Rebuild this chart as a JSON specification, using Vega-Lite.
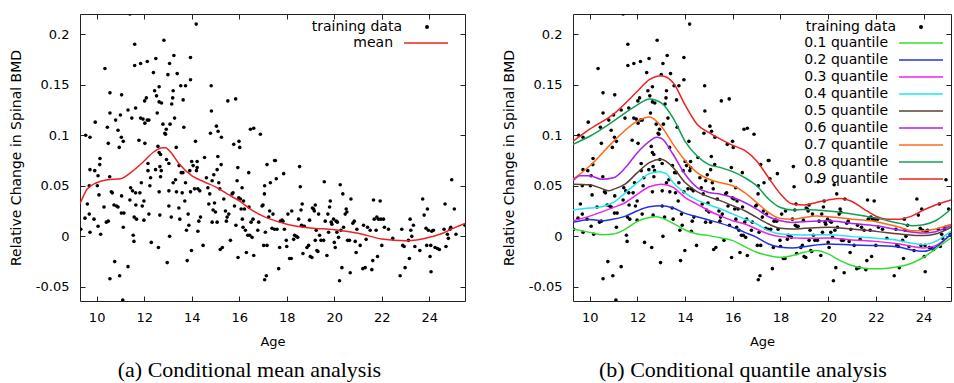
{
"$schema": "https://vega.github.io/schema/vega-lite/v6.json",
"background": "white",
"padding": {"left": 8, "top": 13, "right": 0, "bottom": 0},
"config": {
 "view": {"stroke": "#222", "strokeWidth": 1},
 "font": "DejaVu Sans",
 "axis": {"grid": false, "domain": false, "tickColor": "#222", "tickSize": -5, "labelFont": "DejaVu Sans", "labelFontSize": 13, "labelColor": "black", "titleFont": "DejaVu Sans", "titleFontSize": 14, "titleFontWeight": "normal", "titleColor": "black"},
 "legend": {"labelFont": "DejaVu Sans", "labelFontSize": 14, "labelColor": "black", "labelLimit": 300, "padding": 0, "rowPadding": 3, "title": null}
},
"datasets": {
 "pts": [
{"age":9.33,"bmd":0.007},{"age":9.51,"bmd":0.018},{"age":9.54,"bmd":0.1},{"age":9.72,"bmd":0.098},{"age":9.61,"bmd":0.032},{"age":9.69,"bmd":0.05},{"age":9.72,"bmd":0.066},{"age":9.69,"bmd":0.022},{"age":9.72,"bmd":0.004},{"age":9.89,"bmd":0.017},{"age":9.92,"bmd":0.065},{"age":9.94,"bmd":0.113},{"age":10.03,"bmd":0.05},{"age":10.06,"bmd":0.06},{"age":10.06,"bmd":0.01},{"age":10.1,"bmd":0.041},{"age":10.13,"bmd":0.071},{"age":10.14,"bmd":0.077},{"age":10.17,"bmd":0.002},{"age":10.31,"bmd":0.029},{"age":10.35,"bmd":0.166},{"age":10.41,"bmd":0.014},{"age":10.45,"bmd":0.108},{"age":10.49,"bmd":0.092},{"age":10.49,"bmd":0.015},{"age":10.55,"bmd":0.059},{"age":10.56,"bmd":0.142},{"age":10.56,"bmd":0.122},{"age":10.56,"bmd":-0.042},{"age":10.62,"bmd":0.044},{"age":10.66,"bmd":0.043},{"age":10.73,"bmd":0.031},{"age":10.76,"bmd":-0.025},{"age":10.8,"bmd":0.115},{"age":10.84,"bmd":0.03},{"age":10.9,"bmd":0.029},{"age":10.9,"bmd":0.105},{"age":10.95,"bmd":0.088},{"age":10.97,"bmd":-0.039},{"age":11.0,"bmd":0.12},{"age":11.04,"bmd":0.098},{"age":11.04,"bmd":0.023},{"age":11.05,"bmd":0.14},{"age":11.05,"bmd":0.04},{"age":11.1,"bmd":-0.063},{"age":11.12,"bmd":0.094},{"age":11.12,"bmd":0.009},{"age":11.15,"bmd":0.023},{"age":11.32,"bmd":0.125},{"age":11.32,"bmd":-0.03},{"age":11.4,"bmd":0.036},{"age":11.43,"bmd":0.048},{"age":11.4,"bmd":0.22},{"age":11.48,"bmd":0.117},{"age":11.51,"bmd":0.045},{"age":11.54,"bmd":0.001},{"age":11.57,"bmd":-0.005},{"age":11.58,"bmd":0.019},{"age":11.6,"bmd":0.19},{"age":11.6,"bmd":0.169},{"age":11.64,"bmd":0.127},{"age":11.64,"bmd":0.043},{"age":11.65,"bmd":0.031},{"age":11.68,"bmd":0.017},{"age":11.78,"bmd":0.095},{"age":11.85,"bmd":0.171},{"age":11.85,"bmd":0.117},{"age":11.82,"bmd":0.043},{"age":11.88,"bmd":0.053},{"age":11.92,"bmd":0.03},{"age":11.99,"bmd":0.035},{"age":11.99,"bmd":0.016},{"age":11.95,"bmd":0.116},{"age":12.02,"bmd":0.134},{"age":12.03,"bmd":0.092},{"age":12.03,"bmd":0.112},{"age":12.09,"bmd":0.137},{"age":12.13,"bmd":0.173},{"age":12.13,"bmd":0.115},{"age":12.16,"bmd":0.072},{"age":12.16,"bmd":0.065},{"age":12.2,"bmd":0.115},{"age":12.2,"bmd":0.022},{"age":12.24,"bmd":0.05},{"age":12.27,"bmd":0.058},{"age":12.3,"bmd":-0.006},{"age":12.39,"bmd":0.162},{"age":12.44,"bmd":0.144},{"age":12.48,"bmd":0.066},{"age":12.49,"bmd":0.176},{"age":12.52,"bmd":0.139},{"age":12.55,"bmd":0.122},{"age":12.58,"bmd":0.089},{"age":12.6,"bmd":-0.011},{"age":12.63,"bmd":0.148},{"age":12.63,"bmd":0.133},{"age":12.63,"bmd":0.083},{"age":12.63,"bmd":0.044},{"age":12.66,"bmd":0.069},{"age":12.66,"bmd":0.021},{"age":12.69,"bmd":0.081},{"age":12.69,"bmd":0.059},{"age":12.72,"bmd":0.065},{"age":12.73,"bmd":0.132},{"age":12.79,"bmd":0.111},{"age":12.83,"bmd":0.194},{"age":12.87,"bmd":0.102},{"age":12.9,"bmd":0.101},{"age":12.93,"bmd":0.106},{"age":12.94,"bmd":0.076},{"age":12.97,"bmd":-0.026},{"age":13.0,"bmd":0.16},{"age":13.04,"bmd":0.072},{"age":13.04,"bmd":0.045},{"age":13.04,"bmd":0.03},{"age":13.07,"bmd":0.0},{"age":13.07,"bmd":0.171},{"age":13.09,"bmd":0.111},{"age":13.14,"bmd":0.019},{"age":13.16,"bmd":0.131},{"age":13.2,"bmd":0.137},{"age":13.22,"bmd":0.144},{"age":13.22,"bmd":0.053},{"age":13.25,"bmd":0.179},{"age":13.28,"bmd":0.117},{"age":13.32,"bmd":0.056},{"age":13.35,"bmd":0.088},{"age":13.36,"bmd":0.044},{"age":13.39,"bmd":0.161},{"age":13.46,"bmd":0.028},{"age":13.47,"bmd":0.07},{"age":13.5,"bmd":0.017},{"age":13.54,"bmd":0.149},{"age":13.56,"bmd":0.063},{"age":13.6,"bmd":0.043},{"age":13.63,"bmd":0.063},{"age":13.64,"bmd":0.135},{"age":13.67,"bmd":0.108},{"age":13.71,"bmd":0.035},{"age":13.74,"bmd":0.149},{"age":13.74,"bmd":0.053},{"age":13.78,"bmd":0.006},{"age":13.81,"bmd":-0.024},{"age":13.85,"bmd":0.022},{"age":13.88,"bmd":0.011},{"age":13.92,"bmd":0.065},{"age":13.95,"bmd":0.177},{"age":13.95,"bmd":0.155},{"age":13.95,"bmd":0.044},{"age":13.99,"bmd":-0.014},{"age":14.0,"bmd":0.074},{"age":14.06,"bmd":0.07},{"age":14.12,"bmd":0.047},{"age":14.16,"bmd":0.094},{"age":14.19,"bmd":0.21},{"age":14.2,"bmd":0.065},{"age":14.23,"bmd":0.074},{"age":14.23,"bmd":0.068},{"age":14.26,"bmd":0.047},{"age":14.26,"bmd":0.005},{"age":14.3,"bmd":0.015},{"age":14.34,"bmd":0.045},{"age":14.37,"bmd":0.019},{"age":14.48,"bmd":-0.009},{"age":14.54,"bmd":0.078},{"age":14.62,"bmd":0.058},{"age":14.68,"bmd":0.048},{"age":14.72,"bmd":0.032},{"age":14.76,"bmd":0.042},{"age":14.79,"bmd":0.102},{"age":14.82,"bmd":0.149},{"age":14.83,"bmd":0.124},{"age":14.86,"bmd":0.055},{"age":14.86,"bmd":0.014},{"age":14.9,"bmd":0.026},{"age":14.93,"bmd":0.061},{"age":14.96,"bmd":0.033},{"age":15.0,"bmd":0.024},{"age":15.04,"bmd":0.109},{"age":15.07,"bmd":0.066},{"age":15.07,"bmd":0.014},{"age":15.1,"bmd":0.079},{"age":15.11,"bmd":0.104},{"age":15.14,"bmd":0.053},{"age":15.18,"bmd":0.047},{"age":15.2,"bmd":-0.013},{"age":15.24,"bmd":0.071},{"age":15.25,"bmd":0.098},{"age":15.29,"bmd":-0.011},{"age":15.35,"bmd":0.037},{"age":15.42,"bmd":0.025},{"age":15.46,"bmd":0.015},{"age":15.49,"bmd":0.019},{"age":15.52,"bmd":0.134},{"age":15.56,"bmd":0.022},{"age":15.63,"bmd":-0.004},{"age":15.7,"bmd":0.042},{"age":15.74,"bmd":0.043},{"age":15.77,"bmd":0.091},{"age":15.8,"bmd":0.03},{"age":15.85,"bmd":0.136},{"age":15.86,"bmd":0.011},{"age":15.91,"bmd":0.055},{"age":15.94,"bmd":0.068},{"age":15.95,"bmd":-0.021},{"age":15.98,"bmd":0.038},{"age":15.99,"bmd":0.094},{"age":16.02,"bmd":0.088},{"age":16.05,"bmd":0.037},{"age":16.08,"bmd":0.027},{"age":16.12,"bmd":0.048},{"age":16.13,"bmd":0.017},{"age":16.16,"bmd":0.009},{"age":16.18,"bmd":0.035},{"age":16.22,"bmd":0.027},{"age":16.26,"bmd":0.006},{"age":16.3,"bmd":-0.016},{"age":16.36,"bmd":0.001},{"age":16.4,"bmd":0.063},{"age":16.41,"bmd":0.029},{"age":16.44,"bmd":0.001},{"age":16.47,"bmd":0.106},{"age":16.5,"bmd":0.014},{"age":16.54,"bmd":-0.001},{"age":16.58,"bmd":0.017},{"age":16.61,"bmd":0.107},{"age":16.61,"bmd":-0.019},{"age":16.78,"bmd":0.006},{"age":16.82,"bmd":0.014},{"age":16.89,"bmd":0.101},{"age":16.96,"bmd":0.03},{"age":17.0,"bmd":0.031},{"age":17.03,"bmd":-0.009},{"age":17.06,"bmd":0.042},{"age":17.07,"bmd":0.05},{"age":17.07,"bmd":-0.043},{"age":17.1,"bmd":0.004},{"age":17.14,"bmd":-0.039},{"age":17.17,"bmd":0.071},{"age":17.17,"bmd":-0.009},{"age":17.24,"bmd":0.019},{"age":17.28,"bmd":0.025},{"age":17.31,"bmd":0.053},{"age":17.38,"bmd":0.008},{"age":17.42,"bmd":0.022},{"age":17.48,"bmd":0.007},{"age":17.49,"bmd":0.075},{"age":17.52,"bmd":0.075},{"age":17.56,"bmd":0.057},{"age":17.59,"bmd":0.007},{"age":17.66,"bmd":-0.032},{"age":17.7,"bmd":-0.011},{"age":17.73,"bmd":0.015},{"age":17.8,"bmd":0.016},{"age":17.84,"bmd":0.015},{"age":17.87,"bmd":0.062},{"age":17.9,"bmd":0.007},{"age":17.98,"bmd":-0.004},{"age":18.0,"bmd":-0.01},{"age":18.05,"bmd":0.022},{"age":18.12,"bmd":-0.022},{"age":18.19,"bmd":-0.022},{"age":18.21,"bmd":0.025},{"age":18.29,"bmd":-0.003},{"age":18.33,"bmd":0.001},{"age":18.4,"bmd":0.0},{"age":18.46,"bmd":-0.001},{"age":18.5,"bmd":0.017},{"age":18.54,"bmd":0.069},{"age":18.57,"bmd":0.049},{"age":18.6,"bmd":0.026},{"age":18.62,"bmd":0.011},{"age":18.65,"bmd":0.032},{"age":18.68,"bmd":-0.017},{"age":18.68,"bmd":0.01},{"age":18.74,"bmd":0.01},{"age":18.85,"bmd":-0.011},{"age":18.92,"bmd":-0.009},{"age":18.96,"bmd":0.016},{"age":18.99,"bmd":-0.02},{"age":19.06,"bmd":-0.021},{"age":19.08,"bmd":0.028},{"age":19.13,"bmd":0.027},{"age":19.16,"bmd":0.025},{"age":19.2,"bmd":0.031},{"age":19.2,"bmd":-0.004},{"age":19.24,"bmd":0.006},{"age":19.27,"bmd":-0.014},{"age":19.31,"bmd":-0.015},{"age":19.34,"bmd":0.022},{"age":19.38,"bmd":0.001},{"age":19.44,"bmd":-0.004},{"age":19.55,"bmd":-0.004},{"age":19.58,"bmd":0.054},{"age":19.62,"bmd":0.015},{"age":19.69,"bmd":-0.019},{"age":19.73,"bmd":0.022},{"age":19.76,"bmd":0.004},{"age":19.8,"bmd":0.029},{"age":19.83,"bmd":0.035},{"age":19.87,"bmd":0.014},{"age":19.9,"bmd":0.012},{"age":19.97,"bmd":0.017},{"age":20.0,"bmd":-0.006},{"age":20.04,"bmd":-0.011},{"age":20.08,"bmd":0.015},{"age":20.11,"bmd":0.004},{"age":20.13,"bmd":0.014},{"age":20.18,"bmd":-0.001},{"age":20.22,"bmd":-0.044},{"age":20.25,"bmd":0.051},{"age":20.28,"bmd":0.006},{"age":20.32,"bmd":-0.031},{"age":20.36,"bmd":0.042},{"age":20.39,"bmd":0.009},{"age":20.46,"bmd":0.022},{"age":20.5,"bmd":0.027},{"age":20.53,"bmd":0.024},{"age":20.56,"bmd":-0.004},{"age":20.64,"bmd":-0.004},{"age":20.67,"bmd":-0.036},{"age":20.7,"bmd":0.037},{"age":20.78,"bmd":0.013},{"age":20.84,"bmd":0.015},{"age":20.88,"bmd":-0.005},{"age":20.92,"bmd":-0.016},{"age":20.95,"bmd":0.007},{"age":21.09,"bmd":-0.009},{"age":21.2,"bmd":-0.032},{"age":21.23,"bmd":0.011},{"age":21.3,"bmd":-0.031},{"age":21.34,"bmd":-0.003},{"age":21.4,"bmd":0.009},{"age":21.51,"bmd":0.006},{"age":21.58,"bmd":-0.033},{"age":21.62,"bmd":-0.024},{"age":21.65,"bmd":0.036},{"age":21.68,"bmd":0.017},{"age":21.76,"bmd":0.006},{"age":21.79,"bmd":0.019},{"age":21.82,"bmd":-0.02},{"age":21.86,"bmd":0.017},{"age":21.93,"bmd":0.035},{"age":21.96,"bmd":0.017},{"age":22.0,"bmd":-0.009},{"age":22.07,"bmd":0.017},{"age":22.11,"bmd":0.009},{"age":22.28,"bmd":0.007},{"age":22.46,"bmd":-0.002},{"age":22.77,"bmd":-0.039},{"age":22.84,"bmd":0.007},{"age":22.88,"bmd":-0.009},{"age":22.94,"bmd":-0.01},{"age":22.98,"bmd":-0.031},{"age":23.12,"bmd":-0.004},{"age":23.16,"bmd":-0.022},{"age":23.19,"bmd":0.017},{"age":23.22,"bmd":0.006},{"age":23.26,"bmd":0.0},{"age":23.33,"bmd":0.011},{"age":23.39,"bmd":-0.01},{"age":23.6,"bmd":-0.014},{"age":23.72,"bmd":0.037},{"age":23.78,"bmd":0.021},{"age":23.86,"bmd":0.008},{"age":23.89,"bmd":-0.009},{"age":23.92,"bmd":0.027},{"age":23.96,"bmd":0.006},{"age":24.03,"bmd":-0.02},{"age":24.06,"bmd":-0.009},{"age":24.07,"bmd":-0.035},{"age":24.1,"bmd":0.005},{"age":24.17,"bmd":0.006},{"age":24.24,"bmd":-0.011},{"age":24.34,"bmd":-0.012},{"age":24.42,"bmd":-0.013},{"age":24.62,"bmd":0.007},{"age":24.66,"bmd":0.032},{"age":24.7,"bmd":-0.01},{"age":24.76,"bmd":0.002},{"age":24.8,"bmd":-0.002},{"age":24.87,"bmd":0.007},{"age":24.9,"bmd":0.009},{"age":24.94,"bmd":0.056},{"age":25.05,"bmd":0.027},{"age":25.12,"bmd":0.002},{"age":25.5,"bmd":0.011}
 ],
 "meanc": [
{"series":"mean","age":9.3,"bmd":0.032},{"series":"mean","age":9.61,"bmd":0.047},{"series":"mean","age":10,"bmd":0.053},{"series":"mean","age":10.45,"bmd":0.056},{"series":"mean","age":11,"bmd":0.057},{"series":"mean","age":11.43,"bmd":0.063},{"series":"mean","age":12,"bmd":0.0745},{"series":"mean","age":12.41,"bmd":0.0837},{"series":"mean","age":12.76,"bmd":0.0877},{"series":"mean","age":12.9,"bmd":0.0877},{"series":"mean","age":13.1,"bmd":0.0837},{"series":"mean","age":13.46,"bmd":0.072},{"series":"mean","age":14,"bmd":0.06},{"series":"mean","age":14.51,"bmd":0.054},{"series":"mean","age":15,"bmd":0.049},{"series":"mean","age":15.49,"bmd":0.042},{"series":"mean","age":16,"bmd":0.035},{"series":"mean","age":16.47,"bmd":0.027},{"series":"mean","age":17,"bmd":0.02},{"series":"mean","age":17.59,"bmd":0.0148},{"series":"mean","age":18,"bmd":0.012},{"series":"mean","age":19,"bmd":0.0082},{"series":"mean","age":20,"bmd":0.0066},{"series":"mean","age":21,"bmd":0.003},{"series":"mean","age":22,"bmd":-0.0026},{"series":"mean","age":23,"bmd":-0.0043},{"series":"mean","age":23.47,"bmd":-0.0036},{"series":"mean","age":24,"bmd":-0.001},{"series":"mean","age":24.59,"bmd":0.0033},{"series":"mean","age":25,"bmd":0.0079},{"series":"mean","age":25.5,"bmd":0.0128}
 ],
 "quant": [
{"series":"0.9 quantile","age":9.3,"bmd":0.094},{"series":"0.9 quantile","age":10,"bmd":0.106},{"series":"0.9 quantile","age":11,"bmd":0.121},{"series":"0.9 quantile","age":12,"bmd":0.1435},{"series":"0.9 quantile","age":12.5,"bmd":0.155},{"series":"0.9 quantile","age":13,"bmd":0.159},{"series":"0.9 quantile","age":13.5,"bmd":0.152},{"series":"0.9 quantile","age":14,"bmd":0.13},{"series":"0.9 quantile","age":14.5,"bmd":0.111},{"series":"0.9 quantile","age":15,"bmd":0.1025},{"series":"0.9 quantile","age":15.5,"bmd":0.096},{"series":"0.9 quantile","age":16,"bmd":0.09},{"series":"0.9 quantile","age":16.5,"bmd":0.085},{"series":"0.9 quantile","age":17,"bmd":0.0745},{"series":"0.9 quantile","age":17.5,"bmd":0.058},{"series":"0.9 quantile","age":18,"bmd":0.042},{"series":"0.9 quantile","age":18.5,"bmd":0.032},{"series":"0.9 quantile","age":19,"bmd":0.031},{"series":"0.9 quantile","age":19.5,"bmd":0.0335},{"series":"0.9 quantile","age":20,"bmd":0.036},{"series":"0.9 quantile","age":20.5,"bmd":0.0375},{"series":"0.9 quantile","age":21,"bmd":0.0345},{"series":"0.9 quantile","age":21.5,"bmd":0.027},{"series":"0.9 quantile","age":22,"bmd":0.02},{"series":"0.9 quantile","age":22.5,"bmd":0.017},{"series":"0.9 quantile","age":23,"bmd":0.017},{"series":"0.9 quantile","age":23.5,"bmd":0.02},{"series":"0.9 quantile","age":24,"bmd":0.026},{"series":"0.9 quantile","age":24.5,"bmd":0.031},{"series":"0.9 quantile","age":25.15,"bmd":0.036},
{"series":"0.8 quantile","age":9.3,"bmd":0.091},{"series":"0.8 quantile","age":10,"bmd":0.099},{"series":"0.8 quantile","age":11,"bmd":0.114},{"series":"0.8 quantile","age":12,"bmd":0.13},{"series":"0.8 quantile","age":12.5,"bmd":0.136},{"series":"0.8 quantile","age":13,"bmd":0.132},{"series":"0.8 quantile","age":13.5,"bmd":0.117},{"series":"0.8 quantile","age":14,"bmd":0.094},{"series":"0.8 quantile","age":14.5,"bmd":0.0795},{"series":"0.8 quantile","age":15,"bmd":0.071},{"series":"0.8 quantile","age":15.5,"bmd":0.068},{"series":"0.8 quantile","age":16,"bmd":0.064},{"series":"0.8 quantile","age":16.5,"bmd":0.058},{"series":"0.8 quantile","age":17,"bmd":0.05},{"series":"0.8 quantile","age":17.5,"bmd":0.037},{"series":"0.8 quantile","age":18,"bmd":0.0285},{"series":"0.8 quantile","age":18.5,"bmd":0.026},{"series":"0.8 quantile","age":19,"bmd":0.0266},{"series":"0.8 quantile","age":19.5,"bmd":0.026},{"series":"0.8 quantile","age":20,"bmd":0.025},{"series":"0.8 quantile","age":21,"bmd":0.022},{"series":"0.8 quantile","age":22,"bmd":0.018},{"series":"0.8 quantile","age":23,"bmd":0.0128},{"series":"0.8 quantile","age":23.5,"bmd":0.0105},{"series":"0.8 quantile","age":24,"bmd":0.0115},{"series":"0.8 quantile","age":24.5,"bmd":0.0154},{"series":"0.8 quantile","age":25.15,"bmd":0.027},
{"series":"0.7 quantile","age":9.3,"bmd":0.0565},{"series":"0.7 quantile","age":10,"bmd":0.0696},{"series":"0.7 quantile","age":11,"bmd":0.094},{"series":"0.7 quantile","age":12,"bmd":0.114},{"series":"0.7 quantile","age":12.5,"bmd":0.118},{"series":"0.7 quantile","age":13,"bmd":0.109},{"series":"0.7 quantile","age":13.5,"bmd":0.091},{"series":"0.7 quantile","age":14,"bmd":0.075},{"series":"0.7 quantile","age":14.5,"bmd":0.063},{"series":"0.7 quantile","age":15,"bmd":0.0565},{"series":"0.7 quantile","age":15.5,"bmd":0.053},{"series":"0.7 quantile","age":16,"bmd":0.05},{"series":"0.7 quantile","age":16.5,"bmd":0.0433},{"series":"0.7 quantile","age":17,"bmd":0.0335},{"series":"0.7 quantile","age":17.5,"bmd":0.0236},{"series":"0.7 quantile","age":18,"bmd":0.0177},{"series":"0.7 quantile","age":18.5,"bmd":0.017},{"series":"0.7 quantile","age":19,"bmd":0.0187},{"series":"0.7 quantile","age":19.5,"bmd":0.02},{"series":"0.7 quantile","age":20,"bmd":0.0194},{"series":"0.7 quantile","age":21,"bmd":0.017},{"series":"0.7 quantile","age":22,"bmd":0.0145},{"series":"0.7 quantile","age":23,"bmd":0.0089},{"series":"0.7 quantile","age":23.5,"bmd":0.0056},{"series":"0.7 quantile","age":24,"bmd":0.0056},{"series":"0.7 quantile","age":24.5,"bmd":0.0072},{"series":"0.7 quantile","age":25.15,"bmd":0.012},
{"series":"0.6 quantile","age":9.3,"bmd":0.055},{"series":"0.6 quantile","age":9.6,"bmd":0.06},{"series":"0.6 quantile","age":10,"bmd":0.06},{"series":"0.6 quantile","age":10.5,"bmd":0.0565},{"series":"0.6 quantile","age":11,"bmd":0.058},{"series":"0.6 quantile","age":11.5,"bmd":0.068},{"series":"0.6 quantile","age":12,"bmd":0.0828},{"series":"0.6 quantile","age":12.5,"bmd":0.094},{"series":"0.6 quantile","age":12.8,"bmd":0.098},{"series":"0.6 quantile","age":13,"bmd":0.097},{"series":"0.6 quantile","age":13.5,"bmd":0.081},{"series":"0.6 quantile","age":14,"bmd":0.0614},{"series":"0.6 quantile","age":14.5,"bmd":0.0484},{"series":"0.6 quantile","age":15,"bmd":0.0433},{"series":"0.6 quantile","age":15.5,"bmd":0.0417},{"series":"0.6 quantile","age":16,"bmd":0.0384},{"series":"0.6 quantile","age":16.5,"bmd":0.0335},{"series":"0.6 quantile","age":17,"bmd":0.027},{"series":"0.6 quantile","age":17.5,"bmd":0.0194},{"series":"0.6 quantile","age":18,"bmd":0.0154},{"series":"0.6 quantile","age":18.5,"bmd":0.0138},{"series":"0.6 quantile","age":19,"bmd":0.0145},{"series":"0.6 quantile","age":20,"bmd":0.0154},{"series":"0.6 quantile","age":21,"bmd":0.0128},{"series":"0.6 quantile","age":22,"bmd":0.0105},{"series":"0.6 quantile","age":23,"bmd":0.0062},{"series":"0.6 quantile","age":24,"bmd":0.0033},{"series":"0.6 quantile","age":24.5,"bmd":0.0046},{"series":"0.6 quantile","age":25.15,"bmd":0.0105},
{"series":"0.5 quantile","age":9.3,"bmd":0.0516},{"series":"0.5 quantile","age":10,"bmd":0.051},{"series":"0.5 quantile","age":10.5,"bmd":0.0473},{"series":"0.5 quantile","age":10.8,"bmd":0.045},{"series":"0.5 quantile","age":11,"bmd":0.0466},{"series":"0.5 quantile","age":11.5,"bmd":0.052},{"series":"0.5 quantile","age":12,"bmd":0.063},{"series":"0.5 quantile","age":12.5,"bmd":0.0729},{"series":"0.5 quantile","age":13,"bmd":0.0762},{"series":"0.5 quantile","age":13.5,"bmd":0.068},{"series":"0.5 quantile","age":14,"bmd":0.0532},{"series":"0.5 quantile","age":14.5,"bmd":0.0443},{"series":"0.5 quantile","age":15,"bmd":0.039},{"series":"0.5 quantile","age":15.5,"bmd":0.0351},{"series":"0.5 quantile","age":16,"bmd":0.0302},{"series":"0.5 quantile","age":16.5,"bmd":0.0253},{"series":"0.5 quantile","age":17,"bmd":0.0187},{"series":"0.5 quantile","age":17.5,"bmd":0.0122},{"series":"0.5 quantile","age":18,"bmd":0.0079},{"series":"0.5 quantile","age":18.5,"bmd":0.0072},{"series":"0.5 quantile","age":19,"bmd":0.0079},{"series":"0.5 quantile","age":20,"bmd":0.0089},{"series":"0.5 quantile","age":21,"bmd":0.0072},{"series":"0.5 quantile","age":22,"bmd":0.0049},{"series":"0.5 quantile","age":23,"bmd":0.0023},{"series":"0.5 quantile","age":24,"bmd":0.0007},{"series":"0.5 quantile","age":24.5,"bmd":0.0023},{"series":"0.5 quantile","age":25.15,"bmd":0.0089},
{"series":"0.4 quantile","age":9.3,"bmd":0.026},{"series":"0.4 quantile","age":10,"bmd":0.028},{"series":"0.4 quantile","age":10.5,"bmd":0.0292},{"series":"0.4 quantile","age":11,"bmd":0.0335},{"series":"0.4 quantile","age":11.5,"bmd":0.0433},{"series":"0.4 quantile","age":12,"bmd":0.0532},{"series":"0.4 quantile","age":12.5,"bmd":0.062},{"series":"0.4 quantile","age":12.9,"bmd":0.064},{"series":"0.4 quantile","age":13.2,"bmd":0.062},{"series":"0.4 quantile","age":13.5,"bmd":0.0532},{"series":"0.4 quantile","age":14,"bmd":0.0427},{"series":"0.4 quantile","age":14.5,"bmd":0.0358},{"series":"0.4 quantile","age":15,"bmd":0.0312},{"series":"0.4 quantile","age":15.5,"bmd":0.027},{"series":"0.4 quantile","age":16,"bmd":0.022},{"series":"0.4 quantile","age":16.5,"bmd":0.0171},{"series":"0.4 quantile","age":17,"bmd":0.0122},{"series":"0.4 quantile","age":17.5,"bmd":0.0056},{"series":"0.4 quantile","age":18,"bmd":0.0023},{"series":"0.4 quantile","age":19,"bmd":0.0013},{"series":"0.4 quantile","age":20,"bmd":0.0016},{"series":"0.4 quantile","age":21,"bmd":-0.0003},{"series":"0.4 quantile","age":22,"bmd":-0.002},{"series":"0.4 quantile","age":23,"bmd":-0.0043},{"series":"0.4 quantile","age":23.5,"bmd":-0.0069},{"series":"0.4 quantile","age":24,"bmd":-0.0082},{"series":"0.4 quantile","age":24.5,"bmd":-0.005},{"series":"0.4 quantile","age":25.15,"bmd":0.0049},
{"series":"0.3 quantile","age":9.3,"bmd":0.0154},{"series":"0.3 quantile","age":10,"bmd":0.02},{"series":"0.3 quantile","age":11,"bmd":0.0286},{"series":"0.3 quantile","age":11.5,"bmd":0.0335},{"series":"0.3 quantile","age":12,"bmd":0.0417},{"series":"0.3 quantile","age":12.5,"bmd":0.049},{"series":"0.3 quantile","age":13,"bmd":0.0516},{"series":"0.3 quantile","age":13.5,"bmd":0.0484},{"series":"0.3 quantile","age":14,"bmd":0.0384},{"series":"0.3 quantile","age":14.5,"bmd":0.0319},{"series":"0.3 quantile","age":15,"bmd":0.0253},{"series":"0.3 quantile","age":15.5,"bmd":0.02},{"series":"0.3 quantile","age":16,"bmd":0.0154},{"series":"0.3 quantile","age":16.5,"bmd":0.0122},{"series":"0.3 quantile","age":17,"bmd":0.0072},{"series":"0.3 quantile","age":17.5,"bmd":0.0023},{"series":"0.3 quantile","age":18,"bmd":-0.0003},{"series":"0.3 quantile","age":19,"bmd":-0.002},{"series":"0.3 quantile","age":20,"bmd":-0.0016},{"series":"0.3 quantile","age":21,"bmd":-0.0036},{"series":"0.3 quantile","age":22,"bmd":-0.005},{"series":"0.3 quantile","age":23,"bmd":-0.0076},{"series":"0.3 quantile","age":24,"bmd":-0.0115},{"series":"0.3 quantile","age":24.5,"bmd":-0.0092},{"series":"0.3 quantile","age":25.15,"bmd":0.0023},
{"series":"0.2 quantile","age":9.3,"bmd":0.0138},{"series":"0.2 quantile","age":10,"bmd":0.0167},{"series":"0.2 quantile","age":10.5,"bmd":0.0154},{"series":"0.2 quantile","age":11,"bmd":0.0171},{"series":"0.2 quantile","age":11.5,"bmd":0.02},{"series":"0.2 quantile","age":12,"bmd":0.0253},{"series":"0.2 quantile","age":12.5,"bmd":0.0292},{"series":"0.2 quantile","age":13,"bmd":0.0302},{"series":"0.2 quantile","age":13.5,"bmd":0.028},{"series":"0.2 quantile","age":14,"bmd":0.0227},{"series":"0.2 quantile","age":14.5,"bmd":0.0194},{"series":"0.2 quantile","age":15,"bmd":0.0161},{"series":"0.2 quantile","age":15.5,"bmd":0.0128},{"series":"0.2 quantile","age":16,"bmd":0.0089},{"series":"0.2 quantile","age":16.5,"bmd":0.0039},{"series":"0.2 quantile","age":17,"bmd":-0.001},{"series":"0.2 quantile","age":17.5,"bmd":-0.0076},{"series":"0.2 quantile","age":18,"bmd":-0.0108},{"series":"0.2 quantile","age":18.5,"bmd":-0.0115},{"series":"0.2 quantile","age":19,"bmd":-0.0102},{"series":"0.2 quantile","age":20,"bmd":-0.0076},{"series":"0.2 quantile","age":21,"bmd":-0.0085},{"series":"0.2 quantile","age":22,"bmd":-0.0092},{"series":"0.2 quantile","age":23,"bmd":-0.0108},{"series":"0.2 quantile","age":23.5,"bmd":-0.0135},{"series":"0.2 quantile","age":24,"bmd":-0.0148},{"series":"0.2 quantile","age":24.5,"bmd":-0.0108},{"series":"0.2 quantile","age":25.15,"bmd":0.0023},
{"series":"0.1 quantile","age":9.3,"bmd":0.0072},{"series":"0.1 quantile","age":10,"bmd":0.0039},{"series":"0.1 quantile","age":10.5,"bmd":0.0016},{"series":"0.1 quantile","age":11,"bmd":0.0023},{"series":"0.1 quantile","age":11.5,"bmd":0.0072},{"series":"0.1 quantile","age":12,"bmd":0.0148},{"series":"0.1 quantile","age":12.5,"bmd":0.0187},{"series":"0.1 quantile","age":12.8,"bmd":0.0194},{"series":"0.1 quantile","age":13.5,"bmd":0.0128},{"series":"0.1 quantile","age":14,"bmd":0.0062},{"series":"0.1 quantile","age":14.5,"bmd":0.0023},{"series":"0.1 quantile","age":15,"bmd":0.0007},{"series":"0.1 quantile","age":15.5,"bmd":-0.0016},{"series":"0.1 quantile","age":16,"bmd":-0.0043},{"series":"0.1 quantile","age":16.5,"bmd":-0.0102},{"series":"0.1 quantile","age":17,"bmd":-0.0158},{"series":"0.1 quantile","age":17.5,"bmd":-0.019},{"series":"0.1 quantile","age":18,"bmd":-0.0207},{"series":"0.1 quantile","age":18.5,"bmd":-0.019},{"series":"0.1 quantile","age":19,"bmd":-0.0158},{"series":"0.1 quantile","age":19.5,"bmd":-0.0141},{"series":"0.1 quantile","age":20,"bmd":-0.0174},{"series":"0.1 quantile","age":20.5,"bmd":-0.024},{"series":"0.1 quantile","age":21,"bmd":-0.0289},{"series":"0.1 quantile","age":21.5,"bmd":-0.0315},{"series":"0.1 quantile","age":22,"bmd":-0.0322},{"series":"0.1 quantile","age":22.5,"bmd":-0.0315},{"series":"0.1 quantile","age":23,"bmd":-0.0299},{"series":"0.1 quantile","age":23.5,"bmd":-0.0266},{"series":"0.1 quantile","age":24,"bmd":-0.0207},{"series":"0.1 quantile","age":24.5,"bmd":-0.0125},{"series":"0.1 quantile","age":25.15,"bmd":-0.0016}
 ]
},
"hconcat": [
 {
  "width": 385, "height": 287,
  "title": {"text": "(a) Conditional mean analysis", "orient": "bottom", "anchor": "middle", "frame": "bounds", "font": "Liberation Serif", "fontSize": 22, "fontWeight": "normal", "color": "black", "offset": 12, "dx": 12},
  "layer": [
   {"data": {"name": "pts"},
    "mark": {"type": "point", "filled": true, "size": 13, "opacity": 1, "color": "black", "clip": true},
    "encoding": {
     "x": {"field": "age", "type": "quantitative", "scale": {"domain": [9.3, 25.5], "nice": false, "zero": false}, "axis": {"title": "Age", "values": [10,12,14,16,18,20,22,24], "labelPadding": 15, "titlePadding": 11, "titleFontSize": 13}},
     "y": {"field": "bmd", "type": "quantitative", "scale": {"domain": [-0.064, 0.22], "nice": false, "zero": false}, "axis": {"title": "Relative Change in Spinal BMD", "values": [-0.05,0,0.05,0.1,0.15,0.2], "labelExpr": "datum.value < 0 ? '-' + format(-datum.value, '~g') : format(datum.value, '~g')", "labelPadding": 16, "titlePadding": 12}},
     "shape": {"datum": "training data", "type": "nominal", "scale": {"domain": ["training data"], "range": ["circle"]},
      "legend": {"orient": "none", "legendX": 340, "legendY": 6, "labelAlign": "right", "labelOffset": -32, "symbolSize": 16, "symbolFillColor": "black", "symbolStrokeWidth": 0}}
    }},
   {"data": {"name": "meanc"},
    "mark": {"type": "line", "clip": true, "strokeWidth": 1.5, "interpolate": "monotone"},
    "encoding": {
     "x": {"field": "age", "type": "quantitative", "axis": {"orient": "top", "labels": false, "title": null, "values": [10,12,14,16,18,20,22,24]}},
     "y": {"field": "bmd", "type": "quantitative", "axis": {"orient": "right", "labels": false, "title": null, "values": [-0.05,0,0.05,0.1,0.15,0.2]}},
     "color": {"field": "series", "type": "nominal", "scale": {"domain": ["mean"], "range": ["#ee2222"]},
      "legend": {"orient": "none", "legendX": 339, "legendY": 22, "labelAlign": "right", "labelOffset": -40, "symbolType": "M-4,0H4", "symbolSize": 121, "symbolStrokeWidth": 1.5}}
    }}
  ],
  "resolve": {"axis": {"x": "independent", "y": "independent"}}
 },
 {
  "width": 378, "height": 287,
  "title": {"text": "(b) Conditional quantile analysis", "orient": "bottom", "anchor": "middle", "frame": "bounds", "font": "Liberation Serif", "fontSize": 22, "fontWeight": "normal", "color": "black", "offset": 12, "dx": 16},
  "layer": [
   {"data": {"name": "pts"},
    "mark": {"type": "point", "filled": true, "size": 13, "opacity": 1, "color": "black", "clip": true},
    "encoding": {
     "x": {"field": "age", "type": "quantitative", "scale": {"domain": [9.3, 25.15], "nice": false, "zero": false}, "axis": {"title": "Age", "values": [10,12,14,16,18,20,22,24], "labelPadding": 15, "titlePadding": 11, "titleFontSize": 13}},
     "y": {"field": "bmd", "type": "quantitative", "scale": {"domain": [-0.064, 0.22], "nice": false, "zero": false}, "axis": {"title": "Relative Change in Spinal BMD", "values": [-0.05,0,0.05,0.1,0.15,0.2], "labelExpr": "datum.value < 0 ? '-' + format(-datum.value, '~g') : format(datum.value, '~g')", "labelPadding": 16, "titlePadding": 12}},
     "shape": {"datum": "training data", "type": "nominal", "scale": {"domain": ["training data"], "range": ["circle"]},
      "legend": {"orient": "none", "legendX": 341, "legendY": 6, "labelAlign": "right", "labelOffset": -32, "symbolSize": 16, "symbolFillColor": "black", "symbolStrokeWidth": 0}}
    }},
   {"data": {"name": "quant"},
    "mark": {"type": "line", "clip": true, "strokeWidth": 1.5, "interpolate": "monotone"},
    "encoding": {
     "x": {"field": "age", "type": "quantitative", "axis": {"orient": "top", "labels": false, "title": null, "values": [10,12,14,16,18,20,22,24]}},
     "y": {"field": "bmd", "type": "quantitative", "axis": {"orient": "right", "labels": false, "title": null, "values": [-0.05,0,0.05,0.1,0.15,0.2]}},
     "color": {"field": "series", "type": "nominal", "scale": {"domain": ["0.1 quantile", "0.2 quantile", "0.3 quantile", "0.4 quantile", "0.5 quantile", "0.6 quantile", "0.7 quantile", "0.8 quantile", "0.9 quantile"], "range": ["#33dd33", "#2233dd", "#ee22ee", "#22e6ee", "#5c4033", "#aa22ee", "#ff6a1a", "#11a050", "#ee2222"]},
      "legend": {"orient": "none", "legendX": 341, "legendY": 22, "labelAlign": "right", "labelOffset": -40, "symbolType": "M-4,0H4", "symbolSize": 121, "symbolStrokeWidth": 1.5}}
    }}
  ],
  "resolve": {"axis": {"x": "independent", "y": "independent"}}
 }
],
"spacing": 108,
"bounds": "flush",
"resolve": {"scale": {"x": "independent", "y": "independent", "color": "independent", "shape": "independent"}, "legend": {"color": "independent", "shape": "independent"}}
}
